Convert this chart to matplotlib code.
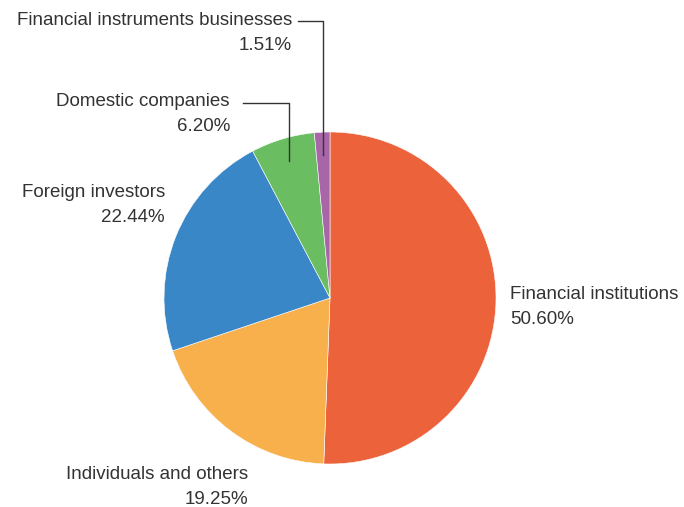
import numpy as np
import matplotlib
matplotlib.use("Agg")
import matplotlib.pyplot as plt

# shareholder breakdown, clockwise from 12 o'clock
labels = ["Financial institutions", "Individuals and others", "Foreign investors",
          "Domestic companies", "Financial instruments businesses"]
shares = [50.60, 19.25, 22.44, 6.20, 1.51]
colors = ["#EC623B", "#F7B04B", "#3A87C8", "#6BBD62", "#A866A8"]

W, H = 684, 507
plt.rcParams["font.family"] = ["Liberation Sans", "DejaVu Sans"]

fig = plt.figure(figsize=(W / 100, H / 100), dpi=100)
ax = fig.add_axes([0, 0, 1, 1])

cx, cy, r = 330, H - 298, 166
wedges, _ = ax.pie(shares, colors=colors, startangle=90, counterclock=False,
                   center=(cx, cy), radius=r, frame=True,
                   wedgeprops=dict(edgecolor="white", linewidth=0.4))
ax.set_xlim(0, W)
ax.set_ylim(0, H)
ax.set_aspect("equal")
ax.axis("off")

txt = dict(fontsize=13.5, color="#333333", linespacing=1.55)


def pct(v):
    return f"{v:.2f}%"


# label anchor (pixel x, pixel y of block centre), alignment
places = {
    0: (510, 307, "left"),
    1: (248, 487, "right"),
    2: (165, 205, "right"),
    3: (230, 114, "right"),
    4: (292, 33, "right"),
}
for i, (x, y, ha) in places.items():
    ax.text(x, H - y, f"{labels[i]}\n{pct(shares[i])}", ha=ha, va="center",
            multialignment=ha, **txt)

# elbow leader lines for the two thin slices
elbows = {3: (103, 243), 4: (21, 298)}
for i, (ly, lx) in elbows.items():
    w = wedges[i]
    mid = np.deg2rad((w.theta1 + w.theta2) / 2)
    px = cx + 0.86 * r * np.cos(mid)
    py = cy + 0.86 * r * np.sin(mid)
    ax.plot([px, px, lx], [py, H - ly, H - ly], color="#333333", lw=1.0)

fig.savefig("out.png", dpi=100)
